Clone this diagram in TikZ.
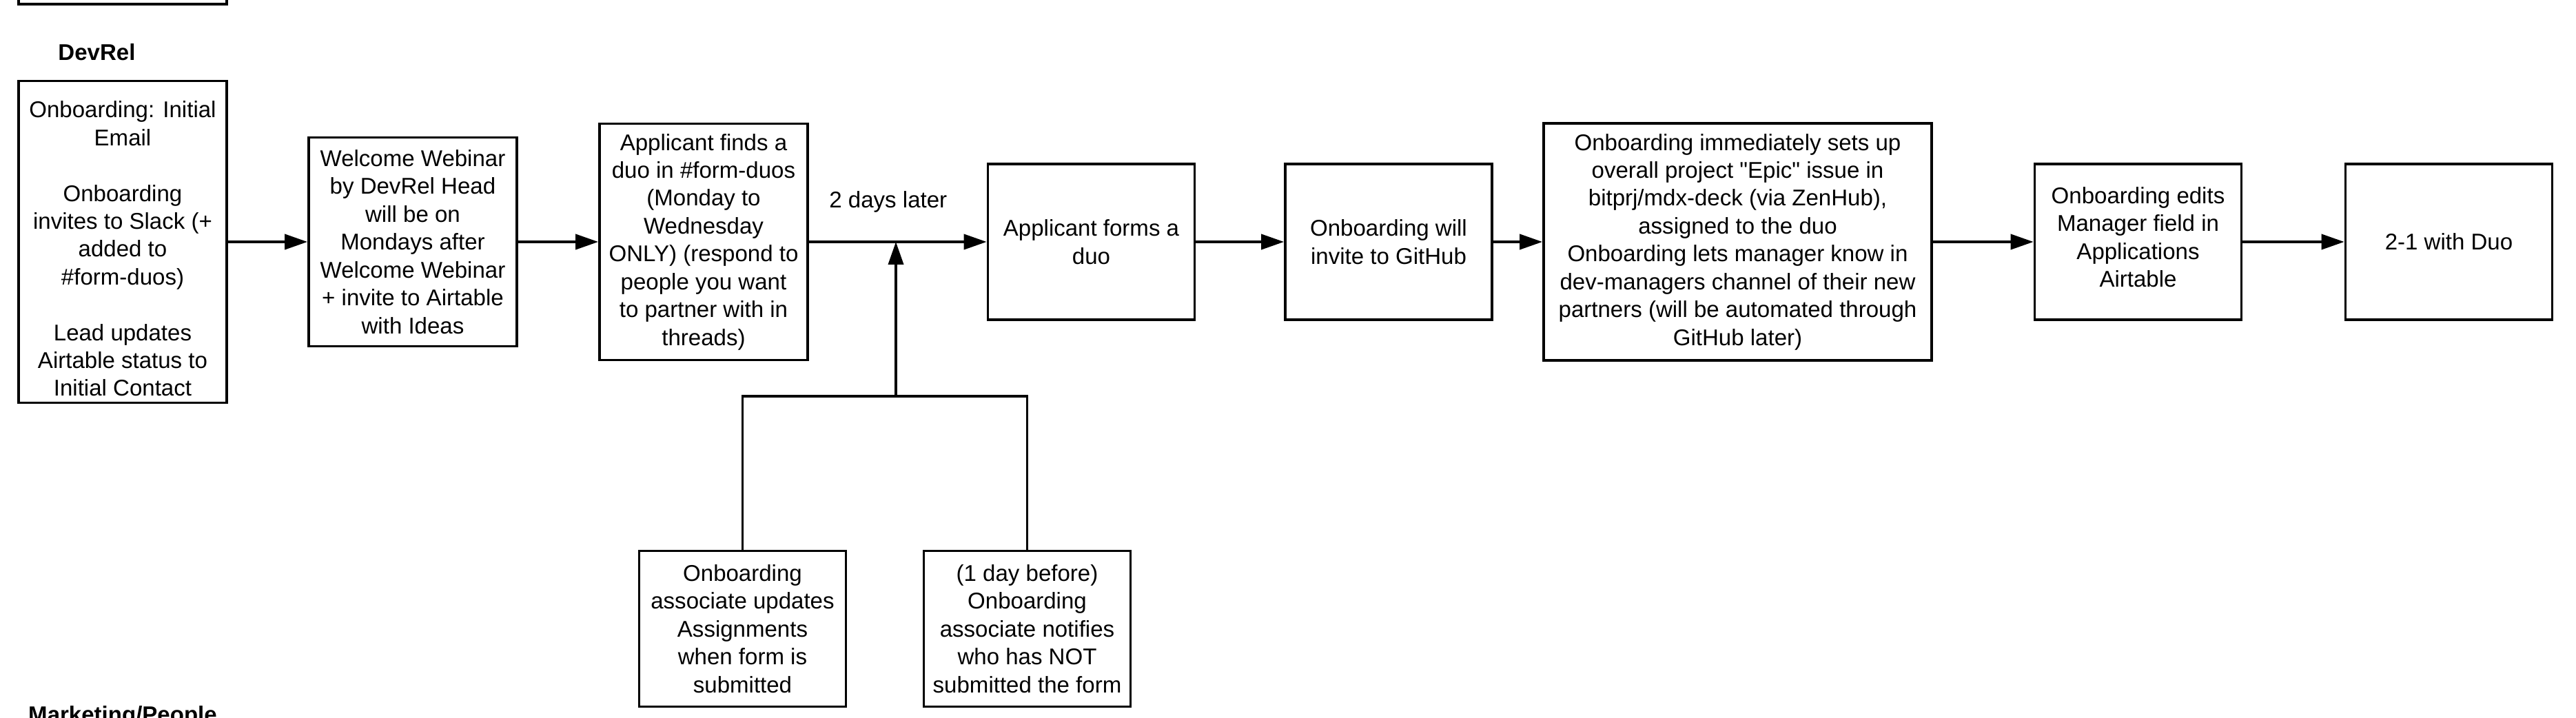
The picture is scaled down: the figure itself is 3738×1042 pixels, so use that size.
\documentclass[tikz,border=0pt]{standalone}
\usepackage{fontspec}
\newfontfamily\flowfont{Liberation Sans}
\usepackage{tikz}
\usetikzlibrary{arrows.meta}
\tikzset{>={Triangle[length=3.3mm,width=2.2mm]}}
\tikzset{
  box/.style={draw, align=center, inner sep=0pt, font=\flowfont\fontsize{9.4pt}{11.5pt}\selectfont},
  smallbox/.style={box, minimum width=30mm, minimum height=22.6mm},
  lanelabel/.style={anchor=base, inner sep=0pt, font=\flowfont\fontsize{9.4pt}{11.5pt}\selectfont\bfseries}
}

\begin{document}
\begin{tikzpicture}[x=0.1mm, y=-0.1mm, line width=0.37mm]
      \useasboundingbox (0,0) rectangle (3738,1042);
      \clip (0,0) rectangle (3738,1042);
      \node[box, minimum width=30.2mm, minimum height=20mm] (header) at (178,-94) {};
      \node[lanelabel] (devrel) at (140.5,88) {DevRel};
      \node[lanelabel] (marketing) at (178,1048) {Marketing/People};
      \node[box, minimum width=30.2mm, minimum height=46.7mm] (intro) at (178,351) {\rule{0pt}{4.4mm}Onboarding: Initial\\Email\\[11.5pt]Onboarding\\invites to Slack (+\\added to\\\#form-duos)\\[11.5pt]Lead updates\\Airtable status to\\Initial Contact};
      \node[box, minimum width=30.2mm, minimum height=30.3mm] (webinar) at (599,351) {Welcome Webinar\\by DevRel Head\\will be on\\Mondays after\\Welcome Webinar\\+ invite to Airtable\\with Ideas};
      \node[box, minimum width=30.2mm, minimum height=34.3mm] (finds) at (1021,351) {Applicant finds a\\duo in \#form-duos\\(Monday to\\Wednesday\\ONLY) (respond to\\people you want\\to partner with in\\threads)};
      \node[smallbox] (forms) at (1583.5,351) {Applicant forms a\\duo};
      \node[smallbox] (github) at (2015,351) {Onboarding will\\invite to GitHub};
      \node[box, minimum width=56.3mm, minimum height=34.4mm] (epic) at (2521.5,351) {Onboarding immediately sets up\\overall project "Epic" issue in\\bitprj/mdx-deck (via ZenHub),\\assigned to the duo\\Onboarding lets manager know in\\dev-managers channel of their new\\partners (will be automated through\\GitHub later)};
      \node[smallbox] (edits) at (3102.5,351) {Onboarding edits\\Manager field in\\Applications\\Airtable\rule[-1.4mm]{0pt}{1.4mm}};
      \node[smallbox] (duo) at (3553.5,351) {2-1 with Duo};
      \node[smallbox] (assign) at (1077.5,912.5) {Onboarding\\associate updates\\Assignments\\when form is\\submitted};
      \node[smallbox] (notify) at (1490.5,912.5) {(1 day before)\\Onboarding\\associate notifies\\who has NOT\\submitted the form};
      \coordinate (split) at (1300,575);
      \coordinate (merge) at (1300,351);
      \draw[->] (intro) -- (webinar);
      \draw[->] (webinar) -- (finds);
      \draw[->] (finds) -- node[pos=0.446, above=4.1mm, inner sep=0pt, font=\flowfont\fontsize{9.4pt}{11.5pt}\selectfont] (wait) {2 days later} (forms);
      \draw[->] (forms) -- (github);
      \draw[->] (github) -- (epic);
      \draw[->] (epic) -- (edits);
      \draw[->] (edits) -- (duo);
      \draw (assign.north) |- (split) -| (notify.north);
      \draw[->] (split) -- (merge);
    \end{tikzpicture}
\end{document}
